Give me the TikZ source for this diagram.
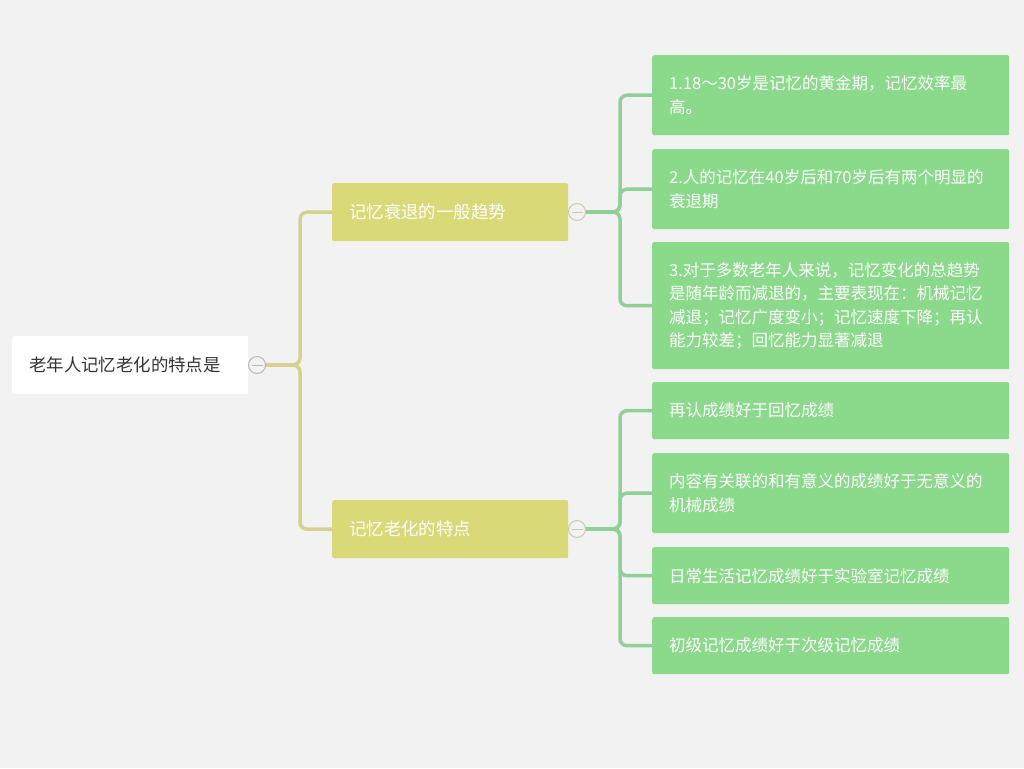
\documentclass[tikz,border=0pt]{standalone}
\usepackage{fontspec}
\setmainfont{Noto Sans CJK SC}
\usetikzlibrary{arrows.meta}
\definecolor{bgcol}{HTML}{F2F2F2}
\definecolor{branchcol}{HTML}{D9D978}
\definecolor{leafcol}{HTML}{8BDA8B}
\definecolor{trunkcol}{HTML}{D3D38E}
\definecolor{twigcol}{HTML}{90CF98}
\definecolor{rootcol}{HTML}{333333}
\tikzset{
  box/.style={anchor=north west, rounded corners=2pt, inner xsep=17pt,
    font=\fontsize{16.5}{23.5}\selectfont, align=left},
  rootbox/.style={box, fill=white, text=rootcol, text width=202pt, minimum height=58pt,
    font=\fontsize{17.4}{23.5}\selectfont},
  branchbox/.style={box, fill=branchcol, text=white, text width=202pt, minimum height=58pt,
    font=\fontsize{17.4}{23.5}\selectfont},
  leafbox/.style={box, fill=leafcol, text=white, text width=323pt},
  fold/.style={circle, draw=#1, fill=bgcol, line width=1pt, minimum size=17pt, inner sep=0pt,
    path picture={\draw[#1, line width=1pt] ([xshift=3pt]path picture bounding box.west)
      -- ([xshift=-3pt]path picture bounding box.east);}},
  trunk/.style={draw=trunkcol, line width=3.5pt, rounded corners=7pt},
  twig/.style={draw=twigcol, line width=3.5pt, rounded corners=7pt}
}
\begin{document}
\begin{tikzpicture}[x=1pt, y=-1pt]
    \fill[bgcol] (0,0) rectangle (1024,768);
    \useasboundingbox (0,0) rectangle (1024,768);

    \node[rootbox] (root) at (12,336) {老年人记忆老化的特点是};
    \node[branchbox] (trend) at (332,183) {记忆衰退的一般趋势};
    \node[branchbox] (trait) at (332,500) {记忆老化的特点};

    \node[leafbox, minimum height=80pt] (t1) at (652,55)
        {1.18～30岁是记忆的黄金期，记忆效率最\\高。};
    \node[leafbox, minimum height=80pt] (t2) at (652,149)
        {2.人的记忆在40岁后和70岁后有两个明显的\\衰退期};
    \node[leafbox, minimum height=127pt] (t3) at (652,242)
        {3.对于多数老年人来说，记忆变化的总趋势\\是随年龄而减退的，主要表现在：机械记忆\\减退；记忆广度变小；记忆速度下降；再认\\能力较差；回忆能力显著减退};
    \node[leafbox, minimum height=57pt] (p1) at (652,382) {再认成绩好于回忆成绩};
    \node[leafbox, minimum height=80pt] (p2) at (652,453)
        {内容有关联的和有意义的成绩好于无意义的\\机械成绩};
    \node[leafbox, minimum height=57pt] (p3) at (652,547) {日常生活记忆成绩好于实验室记忆成绩};
    \node[leafbox, minimum height=57pt] (p4) at (652,617) {初级记忆成绩好于次级记忆成绩};

    \coordinate (j0) at (300,365);
    \coordinate (j1) at (620,212);
    \coordinate (j2) at (620,529);

    \draw[trunk] (257,365) -- (j0) |- (trend.west);
    \draw[trunk] (257,365) -- (j0) |- (trait.west);
    \foreach \n in {t1,t2,t3}
        \draw[twig] (577,212) -- (j1) |- (\n.west);
    \foreach \n in {p1,p2,p3,p4}
        \draw[twig] (577,529) -- (j2) |- (\n.west);

    \node[fold=black!28] (rf) at (257,365) {};
    \node[fold=trunkcol!80!black!60] (f1) at (577,212) {};
    \node[fold=trunkcol!80!black!60] (f2) at (577,529) {};
\end{tikzpicture}
\end{document}
